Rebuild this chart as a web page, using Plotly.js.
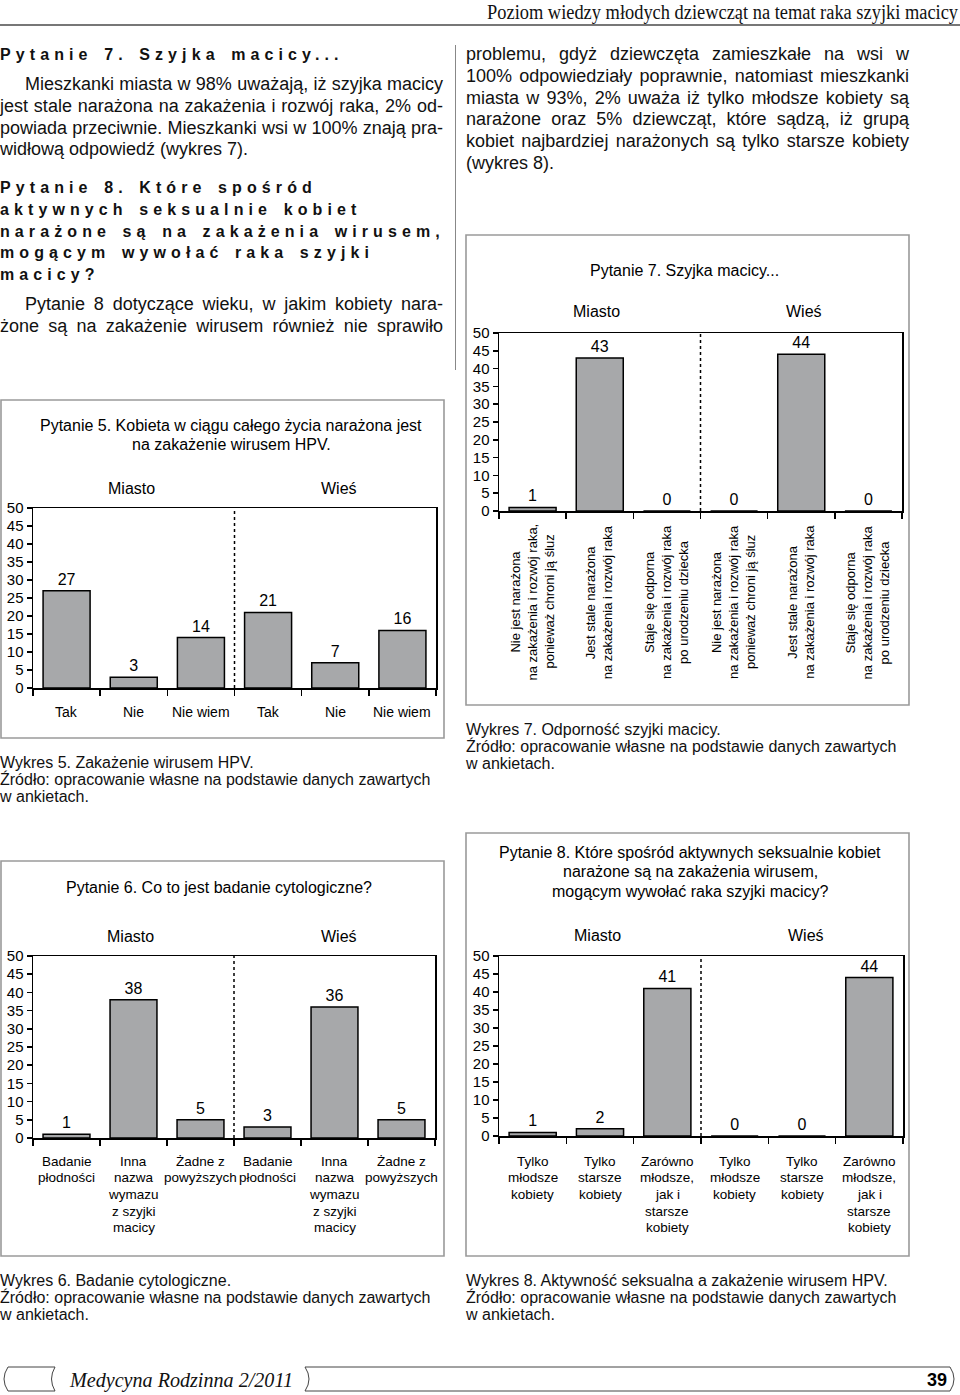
<!DOCTYPE html>
<html><head><meta charset="utf-8">
<script src="https://cdn.plot.ly/plotly-3.0.1.min.js"></script>
<style>
html,body{margin:0;padding:0;background:#fff;}
#page{position:relative;width:960px;height:1395px;overflow:hidden;font-family:"Liberation Sans",Arial,Helvetica,sans-serif;color:#111;}
#plot{position:absolute;left:0;top:0;width:960px;height:1395px;}
.t{position:absolute;white-space:nowrap;}
.body{font-size:18px;height:21.7px;line-height:21.7px;}
.j{text-align:justify;text-align-last:justify;}
.h{font-weight:bold;font-size:16px;letter-spacing:5.1px;word-spacing:2px;height:21.7px;line-height:21.7px;}
.cap{font-size:16px;line-height:17px;height:17px;}
</style></head>
<body>
<div id="page">
  <div id="plot"></div>
  <div id="overlay"></div>
</div>
<script>
// ---------------- DATA ----------------
const groups = ['Miasto', 'Wieś'];

const q5Title = ['Pytanie 5. Kobieta w ciągu całego życia narażona jest', 'na zakażenie wirusem HPV.'];
const q5Labels = ['Tak', 'Nie', 'Nie wiem', 'Tak', 'Nie', 'Nie wiem'];
const q5Values = [27, 3, 14, 21, 7, 16];

const q7Title = ['Pytanie 7. Szyjka macicy...'];
const q7Labels = [
  'Nie jest narażona\nna zakażenia i rozwój raka,\nponieważ chroni ją śluz',
  'Jest stale narażona\nna zakażenia i rozwój raka',
  'Staje się odporna\nna zakażenia i rozwój raka\npo urodzeniu dziecka',
  'Nie jest narażona\nna zakażenia i rozwój raka\nponieważ chroni ją śluz',
  'Jest stale narażona\nna zakażenia i rozwój raka',
  'Staje się odporna\nna zakażenia i rozwój raka\npo urodzeniu dziecka'
];
const q7Values = [1, 43, 0, 0, 44, 0];

const q6Title = ['Pytanie 6. Co to jest badanie cytologiczne?'];
const q6Labels = [
  'Badanie\npłodności', 'Inna\nnazwa\nwymazu\nz szyjki\nmacicy', 'Żadne z\npowyższych',
  'Badanie\npłodności', 'Inna\nnazwa\nwymazu\nz szyjki\nmacicy', 'Żadne z\npowyższych'
];
const q6Values = [1, 38, 5, 3, 36, 5];

const q8Title = ['Pytanie 8. Które spośród aktywnych seksualnie kobiet', 'narażone są na zakażenia wirusem,', 'mogącym wywołać raka szyjki macicy?'];
const q8Labels = [
  'Tylko\nmłodsze\nkobiety', 'Tylko\nstarsze\nkobiety', 'Zarówno\nmłodsze,\njak i\nstarsze\nkobiety',
  'Tylko\nmłodsze\nkobiety', 'Tylko\nstarsze\nkobiety', 'Zarówno\nmłodsze,\njak i\nstarsze\nkobiety'
];
const q8Values = [1, 2, 41, 0, 0, 44];

const yTickVals = [0, 5, 10, 15, 20, 25, 30, 35, 40, 45, 50];

// ---------------- LAYOUT HELPERS ----------------
const W = 960, H = 1395;
const PX = x => x / W, PY = y => 1 - y / H;
const FONT = '"Liberation Sans", Arial, Helvetica, sans-serif';
const BAR = '#a7a8aa';

const charts = [
  {s:'',  labels:q5Labels, values:q5Values, title:q5Title, plot:[33,508,436,688], box:[1,400,444,738],
   tx:231, ty:425, gx:[131,339], gy:488, ly:712, rot:false, lf:14},
  {s:'2', labels:q7Labels, values:q7Values, title:q7Title, plot:[499,333,902,511], box:[466,235,909,705],
   tx:684, ty:270, gx:[596,804], gy:311, ly:602, rot:true, lf:13},
  {s:'3', labels:q6Labels, values:q6Values, title:q6Title, plot:[33,956,435,1138], box:[1,861,444,1256],
   tx:219, ty:887, gx:[130,339], gy:936, ly:1161, rot:false, lf:13.5},
  {s:'4', labels:q8Labels, values:q8Values, title:q8Title, plot:[499,956,903,1136], box:[466,833,909,1256],
   tx:690, ty:852, gx:[597,806], gy:935, ly:1161, rot:false, lf:13.5}
];

const data = [], annotations = [], shapes = [];
const layout = {
  width: W, height: H, margin:{l:0,r:0,t:0,b:0}, showlegend:false,
  paper_bgcolor:'#fff', plot_bgcolor:'rgba(0,0,0,0)',
  font:{family:FONT, color:'#000'}, annotations, shapes
};

charts.forEach(c => {
  const xa = 'x' + c.s, ya = 'y' + c.s;
  const [l, t, r, b] = c.plot;
  data.push({
    type:'bar', xaxis:xa, yaxis:ya,
    x: c.values.map((_, i) => i), y: c.values,
    width: 0.7,
    marker:{color:BAR, line:{color:'#000', width:1.5}},
    text: c.values.map(String), textposition:'outside', constraintext:'none',
    textfont:{size:16, color:'#000', family:FONT}, cliponaxis:false, hoverinfo:'none'
  });
  layout['xaxis' + c.s] = {
    domain:[PX(l), PX(r)], anchor:ya, range:[-0.5, c.values.length - 0.5],
    showline:true, linecolor:'#000', linewidth:1.5, mirror:true,
    ticks:'outside', tickmode:'linear', tick0:-0.5, dtick:1, ticklen:6, tickwidth:1.5, tickcolor:'#000',
    showticklabels:false, showgrid:false, zeroline:false, fixedrange:true
  };
  layout['yaxis' + c.s] = {
    domain:[PY(b), PY(t)], anchor:xa, range:[0, 50],
    tickmode:'array', tickvals:yTickVals, ticks:'outside', ticklen:5, tickwidth:1.5, tickcolor:'#000',
    showline:true, linecolor:'#000', linewidth:1.5, mirror:true,
    tickfont:{size:15, color:'#000', family:FONT}, showgrid:false, zeroline:false, fixedrange:true
  };
  // outer frame
  shapes.push({type:'rect', xref:'paper', yref:'paper', x0:PX(c.box[0]), x1:PX(c.box[2]),
    y0:PY(c.box[3]), y1:PY(c.box[1]), line:{color:'#9a9a9a', width:1.6}, layer:'below'});
  // dotted separator between groups
  shapes.push({type:'line', xref:xa, yref:ya, x0:2.5, x1:2.5, y0:0, y1:50,
    line:{color:'#000', width:1.5, dash:'dot'}});
  // title lines
  c.title.forEach((txt, k) => annotations.push({xref:'paper', yref:'paper', x:PX(c.tx), y:PY(c.ty + k*19.5),
    text:txt, showarrow:false, xanchor:'center', yanchor:'middle', font:{size:16, color:'#000'}}));
  // group labels
  groups.forEach((g, k) => annotations.push({xref:'paper', yref:'paper', x:PX(c.gx[k]), y:PY(c.gy),
    text:g, showarrow:false, xanchor:'center', yanchor:'middle', font:{size:16, color:'#000'}}));
  // category labels
  c.labels.forEach((lab, i) => {
    const lines = lab.split('\n');
    lines.forEach((ln, j) => {
      if (c.rot) {
        annotations.push({xref:xa, yref:'paper', x:i, y:PY(c.ly), xshift:(j - (lines.length-1)/2)*17,
          text:ln, textangle:-90, showarrow:false, xanchor:'center', yanchor:'middle',
          font:{size:c.lf, color:'#000'}});
      } else {
        annotations.push({xref:xa, yref:'paper', x:i, y:PY(c.ly + j*16.7),
          text:ln, showarrow:false, xanchor:'center', yanchor:'middle', font:{size:c.lf, color:'#000'}});
      }
    });
  });
});

Plotly.newPlot('plot', data, layout, {staticPlot:true, displayModeBar:false});

// ---------------- ARTICLE TEXT ----------------
const ov = document.getElementById('overlay');
function put(x, yc, w, txt, cls, lh, extra) {
  const d = document.createElement('div');
  d.className = 't ' + cls;
  d.style.left = x + 'px';
  d.style.top = (yc - lh/2) + 'px';
  if (w) d.style.width = w + 'px';
  if (extra) Object.assign(d.style, extra);
  d.textContent = txt;
  ov.appendChild(d);
  return d;
}
const LH = 21.7, COLW = 443;
// left column
put(0, 55, null, 'Pytanie 7. Szyjka macicy...', 'h', LH);
const p7 = [
  ['Mieszkanki miasta w 98% uważają, iż szyjka macicy', true, 25],
  ['jest stale narażona na zakażenia i rozwój raka, 2% od-', true, 0],
  ['powiada przeciwnie. Mieszkanki wsi w 100% znają pra-', true, 0],
  ['widłową odpowiedź (wykres 7).', false, 0]
];
p7.forEach((p, k) => put(p[2], 85 + k*LH, COLW - p[2], p[0], 'body' + (p[1] ? ' j' : ''), LH));
['Pytanie 8. Które spośród', 'aktywnych seksualnie kobiet', 'narażone są na zakażenia wirusem,',
 'mogącym wywołać raka szyjki', 'macicy?'].forEach((s, k) => put(0, 188 + k*LH, null, s, 'h', LH));
put(25, 305, COLW - 25, 'Pytanie 8 dotyczące wieku, w jakim kobiety nara-', 'body j', LH);
put(0, 305 + LH, COLW, 'żone są na zakażenie wirusem również nie sprawiło', 'body j', LH);
// right column
const pr = [
  ['problemu, gdyż dziewczęta zamieszkałe na wsi w', true],
  ['100% odpowiedziały poprawnie, natomiast mieszkanki', true],
  ['miasta w 93%, 2% uważa iż tylko młodsze kobiety są', true],
  ['narażone oraz 5% dziewcząt, które sądzą, iż grupą', true],
  ['kobiet najbardziej narażonych są tylko starsze kobiety', true],
  ['(wykres 8).', false]
];
pr.forEach((p, k) => put(466, 55 + k*LH, COLW, p[0], 'body' + (p[1] ? ' j' : ''), LH));

// captions
function caption(x, y, first) {
  [first, 'Źródło: opracowanie własne na podstawie danych zawartych', 'w ankietach.']
    .forEach((s, k) => put(x, y + k*17, null, s, 'cap', 17));
}
caption(0, 762, 'Wykres 5. Zakażenie wirusem HPV.');
caption(466, 729, 'Wykres 7. Odporność szyjki macicy.');
caption(0, 1280, 'Wykres 6. Badanie cytologiczne.');
caption(466, 1280, 'Wykres 8. Aktywność seksualna a zakażenie wirusem HPV.');

// header
const hdr = put(0, 12, null, 'Poziom wiedzy młodych dziewcząt na temat raka szyjki macicy', '', 24,
  {fontFamily:'"Liberation Serif","DejaVu Serif",serif', fontSize:'20px', lineHeight:'24px', color:'#111'});
const hw = hdr.getBoundingClientRect().width;
hdr.style.left = (958 - hw) + 'px';
hdr.style.transformOrigin = 'right center';
hdr.style.transform = 'scaleX(' + (471 / hw) + ')';
const rule = document.createElement('div');
Object.assign(rule.style, {position:'absolute', left:'0px', top:'24px', width:'960px', height:'2px', background:'#777'});
ov.appendChild(rule);
// column separator
const sep = document.createElement('div');
Object.assign(sep.style, {position:'absolute', left:'455px', top:'45px', width:'1px', height:'325px', background:'#888'});
ov.appendChild(sep);

// footer
const svgNS = 'http://www.w3.org/2000/svg';
const svg = document.createElementNS(svgNS, 'svg');
svg.setAttribute('width', '960'); svg.setAttribute('height', '35');
Object.assign(svg.style, {position:'absolute', left:'0px', top:'1360px'});
[['M8 7 L55 7 Q48 19 55 31 L8 31 Q0 19 8 7 Z'], ['M305 7 L950 7 Q958 19 950 31 L305 31 Q313 19 305 7 Z']]
  .forEach(p => { const e = document.createElementNS(svgNS, 'path'); e.setAttribute('d', p[0]);
    e.setAttribute('fill', 'none'); e.setAttribute('stroke', '#444'); e.setAttribute('stroke-width', '1'); svg.appendChild(e); });
const n39 = document.createElementNS(svgNS, 'text');
n39.setAttribute('x', '947'); n39.setAttribute('y', '26'); n39.setAttribute('text-anchor', 'end');
n39.setAttribute('font-family', '"Liberation Sans Narrow","Liberation Sans",Arial,sans-serif');
n39.setAttribute('font-weight', 'bold'); n39.setAttribute('font-size', '18'); n39.textContent = '39';
svg.appendChild(n39);
ov.appendChild(svg);
const ft = put(70, 1380, null, 'Medycyna Rodzinna 2/2011', '', 24,
  {fontFamily:'"Liberation Serif","DejaVu Serif",serif', fontStyle:'italic', fontSize:'20px', lineHeight:'24px', color:'#111'});
const fw = ft.getBoundingClientRect().width;
ft.style.transformOrigin = 'left center';
ft.style.transform = 'scaleX(' + (223 / fw) + ')';
</script>
</body></html>
